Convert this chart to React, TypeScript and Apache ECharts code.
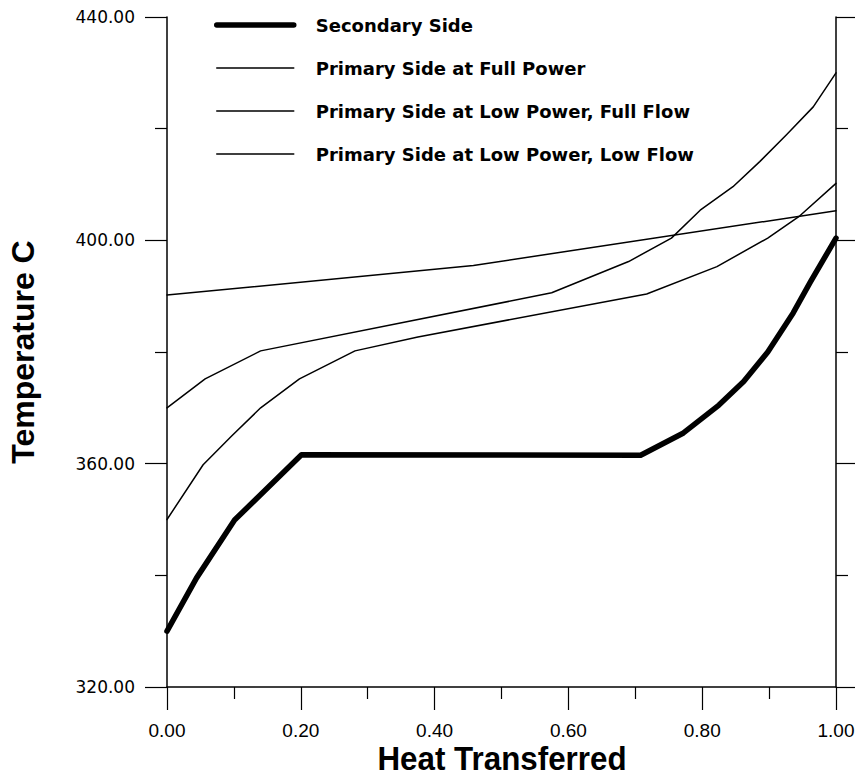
import React, { useEffect, useRef } from "react";
import * as echarts from "echarts";

const seriesNames = [
  "Secondary Side",
  "Primary Side at Full Power",
  "Primary Side at Low Power, Full Flow",
  "Primary Side at Low Power, Low Flow",
];

const secondaryX = [0, 0.044, 0.101, 0.201, 0.708, 0.772, 0.825, 0.862, 0.898, 0.936, 0.962, 1.0];
const secondaryY = [330, 339.5, 349.9, 361.6, 361.5, 365.5, 370.5, 374.7, 380, 387, 392.6, 400.4];

const fullPowerX = [0, 0.054, 0.097, 0.14, 0.198, 0.281, 0.375, 0.717, 0.822, 0.898, 0.946, 1.0];
const fullPowerY = [350, 359.8, 365, 370, 375.2, 380.2, 382.7, 390.4, 395.3, 400.4, 404.4, 410.2];

const lowFullFlowX = [0, 0.458, 1.0];
const lowFullFlowY = [390.2, 395.5, 405.3];

const lowLowFlowX = [0, 0.057, 0.14, 0.575, 0.69, 0.754, 0.797, 0.846, 0.886, 0.926, 0.966, 1.0];
const lowLowFlowY = [370, 375.2, 380.2, 390.6, 396.2, 400.4, 405.4, 409.6, 414.1, 418.9, 423.9, 430];

const xTicks = [0, 0.2, 0.4, 0.6, 0.8, 1.0];
const yTicks = [320, 360, 400, 440];
const xTitle = "Heat Transferred";
const yTitle = "Temperature C";

const pairs = (xs: number[], ys: number[]) => xs.map((x, i) => [x, ys[i]]);

export default function App() {
  const ref = useRef<HTMLDivElement>(null);
  useEffect(() => {
    if (!ref.current) return;
    const chart = echarts.init(ref.current, null, { renderer: "svg" });
    const lineWidths = [5.5, 1.5, 1.5, 1.5];
    const datasets = [
      pairs(secondaryX, secondaryY),
      pairs(fullPowerX, fullPowerY),
      pairs(lowFullFlowX, lowFullFlowY),
      pairs(lowLowFlowX, lowLowFlowY),
    ];
    const yAxisBase = {
      type: "value" as const,
      min: yTicks[0],
      max: yTicks[yTicks.length - 1],
      interval: 40,
      splitLine: { show: false },
      axisLine: { show: true, lineStyle: { color: "#000", width: 1.5 } },
      axisTick: { show: true, inside: false, length: 22, lineStyle: { color: "#000", width: 1.2 } },
      minorTick: { show: true, splitNumber: 2, length: 12, lineStyle: { color: "#000", width: 1.2 } },
    };
    chart.setOption({
      animation: false,
      backgroundColor: "#fff",
      grid: { left: 167, right: 19, top: 17, bottom: 90, containLabel: false, outerBoundsMode: "none" },
      legend: {
        orient: "vertical",
        left: 214,
        top: 15,
        padding: 0,
        itemWidth: 77,
        itemHeight: 20,
        itemGap: 23,
        selectedMode: false,
        textStyle: {
          fontFamily: "DejaVu Sans",
          fontWeight: "bold",
          fontSize: 18,
          color: "#000",
          lineHeight: 20,
          padding: [0, 0, 0, 17],
        },
        data: seriesNames.map((n, i) => ({
          name: n,
          lineStyle: { width: lineWidths[i], color: "#000" },
          itemStyle: { color: "rgba(0,0,0,0)", borderWidth: 0, opacity: 0 },
        })),
      },
      graphic: [
        {
          type: "text",
          x: 502,
          y: 759,
          scaleX: 0.95,
          style: {
            text: xTitle,
            font: "bold 33px 'Liberation Sans', Arial, sans-serif",
            lineHeight: 26,
            fill: "#000",
            textAlign: "center",
            textVerticalAlign: "middle",
          },
        },
      ],
      xAxis: {
        type: "value",
        min: xTicks[0],
        max: xTicks[xTicks.length - 1],
        interval: 0.2,
        splitLine: { show: false },
        axisLine: { show: true, lineStyle: { color: "#000", width: 1.5 } },
        axisTick: { show: true, inside: false, length: 23, lineStyle: { color: "#000", width: 1.2 } },
        minorTick: { show: true, splitNumber: 2, length: 12, lineStyle: { color: "#000", width: 1.2 } },
        axisLabel: {
          margin: 34,
          fontFamily: "'Liberation Sans', Arial, sans-serif",
          fontSize: 19,
          color: "#000",
          formatter: (v: number) => v.toFixed(2),
        },
      },
      yAxis: [
        {
          ...yAxisBase,
          position: "left",
          name: yTitle,
          nameLocation: "middle",
          nameGap: 128,
          nameTextStyle: {
            fontFamily: "'Liberation Sans', Arial, sans-serif",
            fontWeight: "bold",
            fontSize: 32,
            color: "#000",
          },
          axisLabel: {
            margin: 32,
            fontFamily: "DejaVu Sans",
            fontSize: 17,
            color: "#000",
            formatter: (v: number) => v.toFixed(2),
          },
        },
        {
          ...yAxisBase,
          position: "right",
          axisLabel: { show: false },
        },
      ],
      series: datasets.map((d, i) => ({
        name: seriesNames[i],
        type: "line",
        data: d,
        symbol: "none",
        showSymbol: false,
        yAxisIndex: 0,
        lineStyle: { color: "#000", width: lineWidths[i], join: "round", cap: "round" },
        itemStyle: { color: "#000" },
      })),
    });
    return () => chart.dispose();
  }, []);
  return (
    <div
      ref={ref}
      style={{ position: "fixed", left: 0, top: 0, width: 855, height: 777, background: "#fff" }}
    />
  );
}
